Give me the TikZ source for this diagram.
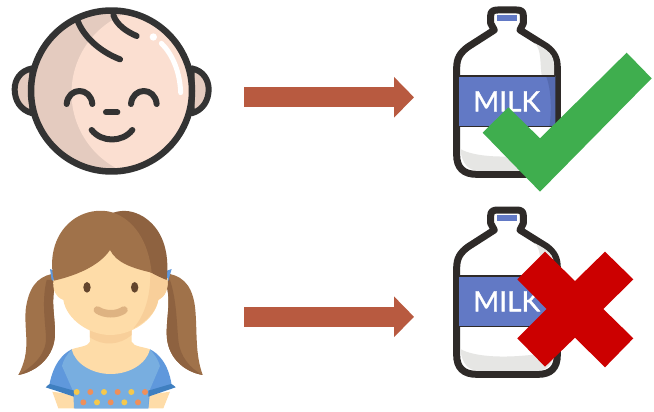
\documentclass[tikz,border=0pt]{standalone}
\usepackage{fontspec}
\newfontfamily\labelfont[FakeBold=1.2]{Lato}
\usetikzlibrary{arrows.meta}
\definecolor{ink}{HTML}{333333}
\definecolor{skinA}{HTML}{FBDFD1}
\definecolor{skinB}{HTML}{E4CBBF}
\definecolor{arrowc}{HTML}{B85A40}
\definecolor{milkblue}{HTML}{6279C5}
\definecolor{milkdark}{HTML}{556AAF}
\definecolor{bink}{HTML}{2E2A28}
\definecolor{bgrey}{HTML}{E6E6E4}
\definecolor{okgreen}{HTML}{3FAE4E}
\definecolor{nored}{HTML}{CC0000}
\definecolor{hairA}{HTML}{A0724A}
\definecolor{hairB}{HTML}{8E6240}
\definecolor{face}{HTML}{FEDCA8}
\definecolor{faceB}{HTML}{F8CF9A}
\definecolor{shirt}{HTML}{78AEE0}
\definecolor{shirtB}{HTML}{5F98DC}
\definecolor{shirtC}{HTML}{3F7FC0}
\definecolor{dotY}{HTML}{F5C84C}
\definecolor{dotO}{HTML}{EF8F5A}
\tikzset{
 babyline/.style={draw=ink,line width=6pt,line cap=round,line join=round},
 flow/.style={draw=arrowc,line width=20pt,-{Triangle[length=20pt,width=39.6pt,fill=arrowc]}},
 zoomed/.style={x=0.33333pt,y=-0.33333pt},
 bottleline/.style={draw=bink,line width=7pt,line join=round},
 milkpic/.pic={
  \path[fill=white,bottleline] (152,70) -- (152,47) .. controls (152,34) and (160,30) .. (173,30) -- (230,30)
    .. controls (243,30) and (250,34) .. (250,47) -- (250,70) -- (240,90)
    -- (320,140) .. controls (343,158) and (352,175) .. (352,205) -- (352,465)
    .. controls (352,503) and (333,523) .. (295,523) -- (110,523)
    .. controls (70,523) and (50,503) .. (50,465) -- (50,205)
    .. controls (50,175) and (60,158) .. (85,140) -- (163,90) -- cycle;
  \fill[bgrey] (285,130) .. controls (305,150) and (300,195) .. (305,226) -- (342,226) -- (342,195) .. controls (342,165) and (325,150) .. (285,130) -- cycle;
  \fill[bgrey] (61,447) .. controls (100,470) and (200,480) .. (342,455)
     .. controls (338,495) and (320,512) .. (290,512) -- (115,512) .. controls (85,512) and (65,490) .. (61,447) -- cycle;
  \fill[milkblue] (58,228) rectangle (346,380);
  \fill[milkdark] (318,228) .. controls (335,270) and (335,340) .. (328,380) -- (346,380) -- (346,228) -- cycle;
  \draw[bink,line width=1.5pt] (58,228) -- (346,228) (58,380) -- (346,380);
  \fill[milkblue] (170,44) rectangle (232,64);
  \node[text=white,font=\labelfont\fontsize{28}{28}\selectfont,inner sep=0pt,anchor=center] at (200,304) {MILK};
 }
}
\begin{document}
\begin{tikzpicture}[x=1pt,y=-1pt]
\useasboundingbox (0,0) rectangle (654,412);
% baby
\begin{scope}[zoomed]
 \path[fill=skinB,babyline] (97,205) .. controls (60,212) and (44,240) .. (44,268) .. controls (44,300) and (60,330) .. (97,340) -- cycle;
 \path[fill=skinB,babyline] (575,205) .. controls (610,212) and (626,240) .. (626,268) .. controls (626,300) and (610,330) .. (575,340) -- cycle;
\end{scope}
\fill[skinB] (111.5,91) circle (80.5);
\begin{scope}
 \clip (111.5,91) circle (80.5);
 \fill[skinA] (157,93) circle (85.5);
\end{scope}
\draw[babyline,line width=6.5pt] (111.5,91) circle (80.5);
\begin{scope}[zoomed]
 \draw[babyline] (232,60) .. controls (250,110) and (300,155) .. (360,178);
 \draw[babyline] (340,45) .. controls (350,75) and (380,95) .. (410,108);
 \draw[babyline] (200,312) .. controls (205,260) and (272,260) .. (277,312);
 \draw[babyline] (393,312) .. controls (398,260) and (465,260) .. (470,312);
 \draw[babyline] (318,337) -- (352,337);
 \draw[babyline] (275,390) .. controls (305,428) and (367,428) .. (397,390);
 \fill[white] (460,111) circle (11);
 \draw[white,line width=5pt,line cap=round] (484,130) .. controls (520,165) and (540,220) .. (542,278);
\end{scope}
% arrows
\coordinate (a1s) at (244,97.3);
\coordinate (a1e) at (414,97.3);
\coordinate (a2s) at (244,316.8);
\coordinate (a2e) at (414,316.8);
\draw[flow] (a1s) -- (a1e);
\draw[flow] (a2s) -- (a2e);
% bottles
\begin{scope}[shift={(440,0)},zoomed] \pic {milkpic}; \end{scope}
\begin{scope}[shift={(440,200)},zoomed] \pic {milkpic}; \end{scope}
% check and cross
\begin{scope}[shift={(440,0)},zoomed]
 \fill[okgreen] (300,575) -- (128,398) -- (205,322) -- (300,415) -- (560,158) -- (635,235) -- cycle;
\end{scope}
\begin{scope}[shift={(440,200)},zoomed]
 \fill[nored] (315,155) -- (405,243) -- (495,155) -- (580,238) -- (490,327) -- (580,415) -- (495,502) -- (405,413) -- (315,500) -- (232,415) -- (320,327) -- (232,238) -- cycle;
\end{scope}
% girl
\begin{scope}[shift={(0,200)},zoomed]
 % pigtails
 \fill[hairA] (155,222) .. controls (110,232) and (85,265) .. (77,330) .. controls (72,400) and (95,450) .. (55,525)
   .. controls (110,515) and (165,470) .. (165,400) .. controls (165,340) and (150,300) .. (170,240) -- cycle;
 \fill[hairB] (140,240) .. controls (125,300) and (135,360) .. (138,410) .. controls (140,460) and (105,495) .. (55,525)
   .. controls (110,515) and (165,470) .. (165,400) .. controls (165,340) and (150,300) .. (170,240) -- cycle;
 \fill[hairA] (510,222) .. controls (555,232) and (580,265) .. (586,330) .. controls (592,400) and (585,460) .. (608,525)
   .. controls (550,515) and (500,470) .. (500,400) .. controls (500,340) and (515,300) .. (495,240) -- cycle;
 \fill[hairB] (510,240) .. controls (530,300) and (530,370) .. (535,420) .. controls (540,470) and (570,505) .. (608,525)
   .. controls (550,515) and (500,470) .. (500,400) .. controls (500,340) and (515,300) .. (495,240) -- cycle;
 % bands
 \fill[shirtB] (150,207) -- (170,215) -- (172,248) -- (155,240) -- cycle;
 \fill[shirtB] (515,207) -- (493,215) -- (491,248) -- (505,242) -- cycle;
 % arms
 \fill[face] (157,575) -- (225,585) -- (225,625) -- (175,625) -- cycle;
 \fill[face] (510,575) -- (445,585) -- (445,625) -- (490,625) -- cycle;
 % shirt
 \fill[shirtB] (215,448) .. controls (190,460) and (160,490) .. (148,555) -- (220,575) -- (225,625) -- (445,625) -- (450,575) -- (515,555)
   .. controls (505,490) and (475,460) .. (450,448) -- cycle;
 \fill[shirt] (215,448) .. controls (200,465) and (190,480) .. (186,498) -- (220,575) -- (222,625) -- (445,625) -- (447,575) -- (480,498) .. controls (475,480) and (465,465) .. (450,448) -- cycle;
 \fill[shirtC] (137,562) .. controls (145,555) and (145,553) .. (150,552) -- (222,572) -- (222,590) -- cycle;
 \fill[shirtC] (527,562) .. controls (520,555) and (518,553) .. (513,552) -- (445,572) -- (445,590) -- cycle;
 % neck
 \fill[face] (270,380) -- (270,425) .. controls (265,440) and (235,440) .. (215,448) .. controls (225,490) and (275,522) .. (332,522)
   .. controls (390,522) and (440,490) .. (450,448) .. controls (430,440) and (400,440) .. (395,425) -- (395,380) -- cycle;
 \fill[faceB] (270,390) -- (270,412) .. controls (310,440) and (360,435) .. (395,405) -- (395,380) -- cycle;
 % face
 \fill[face] (160,240) .. controls (158,270) and (165,290) .. (190,300) .. controls (200,360) and (270,405) .. (330,405)
   .. controls (395,405) and (465,360) .. (475,300) .. controls (495,290) and (505,270) .. (503,235) -- (330,120) -- cycle;
 \fill[faceB] (450,200) .. controls (455,270) and (440,340) .. (400,385) .. controls (440,365) and (468,335) .. (475,300)
   .. controls (495,290) and (505,270) .. (503,235) -- cycle;
 % hair
 \fill[hairB] (340,38) .. controls (370,28) and (400,32) .. (430,50) .. controls (485,85) and (510,150) .. (500,240)
   .. controls (480,232) and (460,222) .. (430,205) -- (400,100) -- cycle;
 \fill[hairA] (162,242) .. controls (145,170) and (165,95) .. (225,55) .. controls (255,35) and (300,25) .. (340,38)
   .. controls (400,60) and (445,120) .. (455,218) .. controls (400,205) and (350,190) .. (330,150)
   .. controls (300,195) and (235,225) .. (162,242) -- cycle;
 % features
 \fill[hairB!70!black] (261,262) ellipse [x radius=11,y radius=16];
 \fill[hairB!70!black] (404,262) ellipse [x radius=11,y radius=16];
 \draw[draw=faceB!70!hairA,line width=7.5pt,line cap=round] (292,330) .. controls (315,345) and (350,345) .. (372,330);
 % dots
 \foreach \px/\c in {230/dotY,271/dotO,312/dotY,353/dotO,394/dotY,435/dotO} \fill[\c] (\px,576) circle (9);
 \foreach \px/\c in {250/dotO,291/dotY,332/dotO,373/dotY,414/dotO} \fill[\c] (\px,607) circle (9);
\end{scope}
\end{tikzpicture}
\end{document}
